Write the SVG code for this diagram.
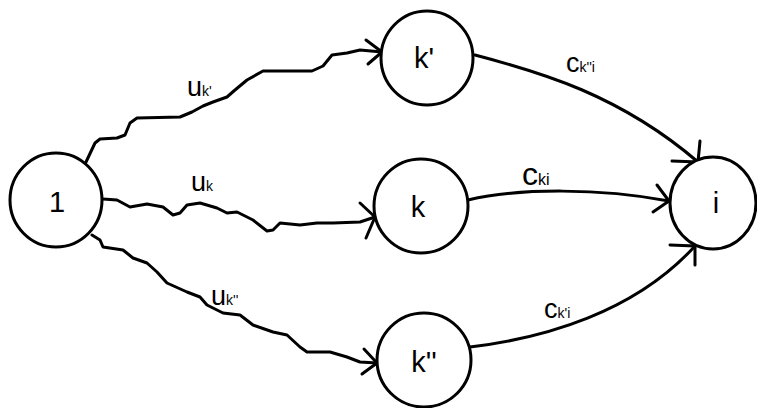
<svg xmlns="http://www.w3.org/2000/svg" width="757" height="408" viewBox="0 0 757 408">
<style>
.node{fill:#fff;stroke:#000;stroke-width:3}
.nt{font-family:"Liberation Sans",Arial,sans-serif;font-size:29px;fill:#000;text-anchor:middle}
.e{fill:none;stroke:#000;stroke-width:3;stroke-linejoin:round;stroke-linecap:round}
.lb{font-family:"Liberation Sans",Arial,sans-serif;fill:#000}
.big{font-size:27px}
.sub{font-size:14px}
</style>
<rect width="757" height="408" fill="#fff"/>
<g id="connectors">
<path class="e" d="M86,162 L95,143 L100,139 L117,138 L125,135 L130,123 L137,118 L180,117 L192,112 L203,106 L213,102 L227,97 L235,90 L247,80 L263,71 L312,71 L323,66 L332,55 L347,53 L360,50 L382,52"/>
<path class="e" d="M366,40 L382,52 L368,64"/>
<path class="e" d="M103,199 L117,200 L130,207 L147,204 L163,207 L173,215 L180,213 L187,205 L200,203 L217,208 L227,213 L237,212 L253,220 L267,231 L273,230 L280,223 L300,225 L317,223 L333,223 L360,222 L375,217"/>
<path class="e" d="M360,203 L375,217 L366,238"/>
<path class="e" d="M92,235 L100,240 L103,247 L123,250 L133,258 L147,263 L157,272 L167,283 L187,292 L200,297 L207,305 L223,313 L240,315 L253,325 L273,332 L287,335 L300,347 L307,352 L330,352 L347,357 L360,362 L377,363"/>
<path class="e" d="M364,349 L377,363 L362,374"/>
<path class="e" d="M475,55 C540,72 620,95 698,162"/>
<path class="e" d="M700,141 L698,162 L672,161"/>
<path class="e" d="M468,200 C520,188 600,188 669,201"/>
<path class="e" d="M657,185 L669,201 L653,212"/>
<path class="e" d="M470,347 C545,338 635,312 695,246"/>
<path class="e" d="M670,245 L695,246 L695,265"/>
<text class="lb" x="187" y="96"><tspan class="big">u</tspan><tspan class="sub">k'</tspan></text>
<text class="lb" x="191" y="191"><tspan class="big">u</tspan><tspan class="sub">k</tspan></text>
<text class="lb" x="211" y="305"><tspan class="big">u</tspan><tspan class="sub">k''</tspan></text>
<text class="lb" x="566" y="72"><tspan class="big">c</tspan><tspan class="sub">k''i</tspan></text>
<text class="lb" x="522" y="185"><tspan style="font-size:32px">c</tspan><tspan style="font-size:16px">ki</tspan></text>
<text class="lb" x="544" y="318"><tspan class="big">c</tspan><tspan class="sub">k'i</tspan></text>
</g>
<g id="node-1"><ellipse class="node" cx="56" cy="200" rx="46" ry="47"/><text class="nt" x="57" y="212">1</text></g>
<g id="node-kp"><ellipse class="node" cx="427" cy="58" rx="46" ry="47"/><text class="nt" x="424" y="68">k'</text></g>
<g id="node-k"><ellipse class="node" cx="421" cy="206" rx="47" ry="47"/><text class="nt" x="418" y="217">k</text></g>
<g id="node-kpp"><ellipse class="node" cx="424" cy="360" rx="47" ry="47"/><text class="nt" x="424" y="372">k''</text></g>
<g id="node-i"><ellipse class="node" cx="713" cy="203" rx="43" ry="46"/><text class="nt" x="716" y="213">i</text></g>
</svg>
